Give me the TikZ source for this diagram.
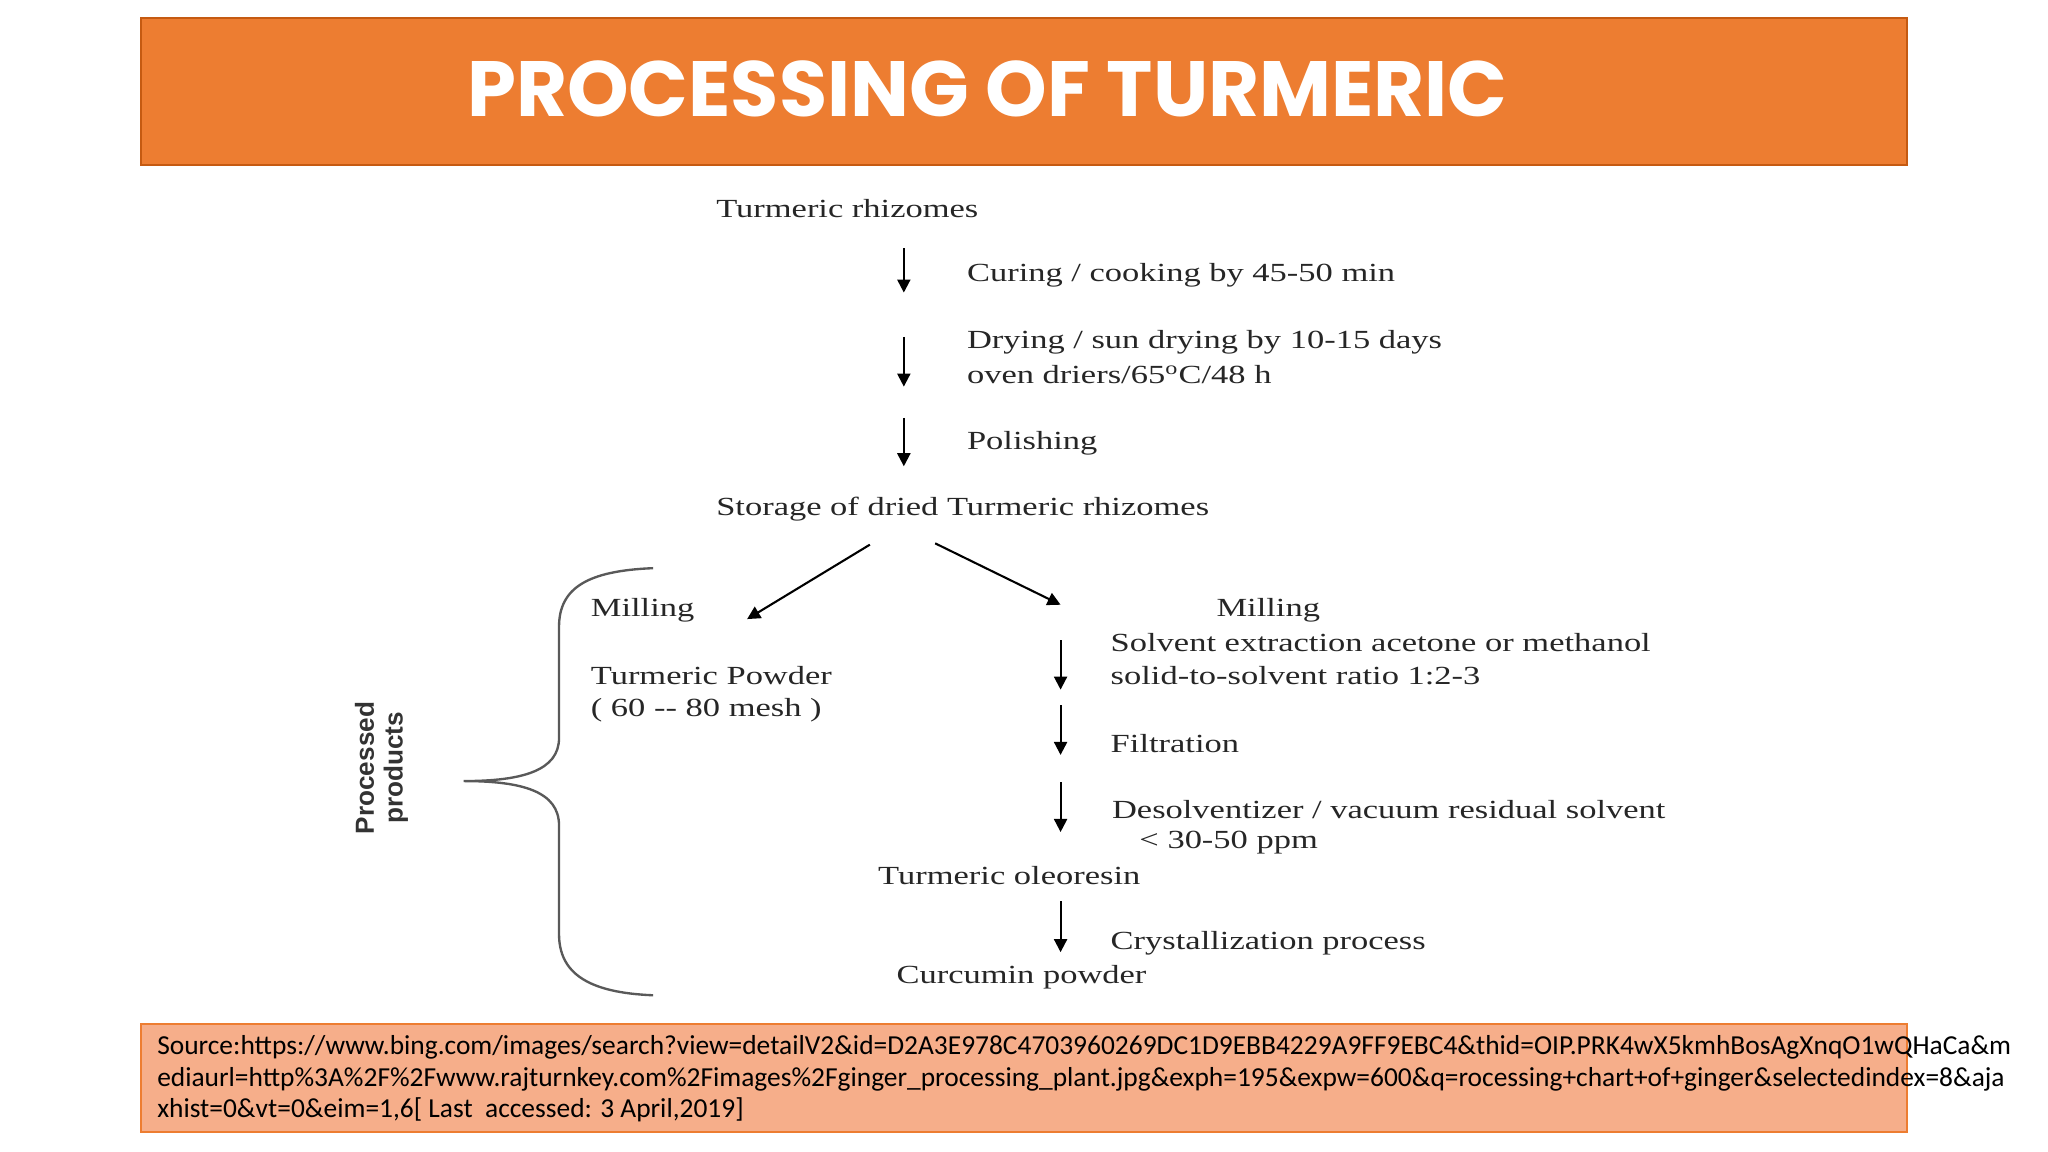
\documentclass[tikz,border=0pt]{standalone}
\usepackage{fontspec}
\usetikzlibrary{arrows.meta}
\setmainfont{Liberation Serif}
\newfontfamily\diagf{Liberation Serif}[FakeStretch=1.32]
\newfontfamily\titlef{Poppins}
\newfontfamily\srcf{Carlito}
\newfontfamily\sansf{Liberation Sans}
\definecolor{hdr}{HTML}{ED7D31}
\definecolor{hdrline}{HTML}{C55A11}
\definecolor{srcfill}{HTML}{F6AE8A}
\begin{document}
\begin{tikzpicture}[x=0.5pt,y=-0.5pt,
  t/.style={anchor=west,inner sep=0pt,font=\diagf\fontsize{10}{12}\selectfont,text=black!85},
  ar/.style={-{Triangle[length=5pt,width=5pt]},line width=0.8pt},
  s/.style={anchor=west,inner sep=0pt,font=\srcf\fontsize{10.5}{12}\selectfont}]
\useasboundingbox (0,0) rectangle (1568,882);
\fill[white] (0,0) rectangle (1568,882);
\draw[fill=hdr,draw=hdrline,line width=0.8pt] (108,14) rectangle (1460,126);
\node[text=white,font=\titlef\bfseries\fontsize{30}{34}\selectfont] (title) at (756,68) {PROCESSING OF TURMERIC};
\draw[fill=srcfill,draw=hdr,line width=0.8pt] (108,784) rectangle (1460,867);
\node[s] (s1) at (120,802) {Source:https://www.bing.com/images/search?view=detailV2\&id=D2A3E978C4703960269DC1D9EBB4229A9FF9EBC4\&thid=OIP.PRK4wX5kmhBosAgXnqO1wQHaCa\&m};
\node[s] (s2) at (120,826) {ediaurl=http\%3A\%2F\%2Fwww.rajturnkey.com\%2Fimages\%2Fginger\_processing\_plant.jpg\&exph=195\&expw=600\&q=rocessing+chart+of+ginger\&selectedindex=8\&aja};
\node[s] (s3) at (120,850) {xhist=0\&vt=0\&eim=1,6[ Last\ \ accessed: 3 April,2019]};

\node[t] (n1) at (548,160) {Turmeric rhizomes};
\node[t] (c1) at (740,211) {Curing / cooking by 45-50 min};
\node[t] (d1) at (740,262) {Drying / sun drying by 10-15 days};
\node[t] (d2) at (740,287) {oven driers/65\textsuperscript{o}C/48 h};
\node[t] (p1) at (740,339) {Polishing};
\node[t] (st) at (548,390) {Storage of dried Turmeric rhizomes};
\node[t] (m1) at (452,467) {Milling};
\node[t] (m2) at (931,467) {Milling};
\node[t] (tp) at (452,517) {Turmeric Powder};
\node[t] (mesh) at (452,544) {( 60 -- 80 mesh )};
\node[t] (se1) at (850,492) {Solvent extraction acetone or methanol};
\node[t] (se2) at (850,517) {solid-to-solvent ratio 1:2-3};
\node[t] (fi) at (850,569) {Filtration};
\node[t] (de1) at (851,620) {Desolventizer / vacuum residual solvent};
\node[t] (de2) at (872,645) {< 30-50 ppm};
\node[t] (ol) at (672,670) {Turmeric oleoresin};
\node[t] (cr) at (850,722) {Crystallization process};
\node[t] (cu) at (686,748) {Curcumin powder};

\coordinate (a1s) at (692,190); \coordinate (a1e) at (692,224);
\coordinate (a2s) at (692,258); \coordinate (a2e) at (692,296);
\coordinate (a3s) at (692,320); \coordinate (a3e) at (692,357);
\coordinate (b1s) at (666,417); \coordinate (b1e) at (572,474);
\coordinate (b2s) at (716,416); \coordinate (b2e) at (812,463);
\coordinate (r1s) at (812,490); \coordinate (r1e) at (812,528);
\coordinate (r2s) at (812,540); \coordinate (r2e) at (812,578);
\coordinate (r3s) at (812,599); \coordinate (r3e) at (812,637);
\coordinate (r4s) at (812,690); \coordinate (r4e) at (812,729);
\foreach \a in {a1,a2,a3,b1,b2,r1,r2,r3,r4} \draw[ar] (\a s) -- (\a e);

\coordinate (bt) at (500,435); \coordinate (bb) at (500,762); \coordinate (tip) at (355,598);
\draw[line width=0.9pt,black!65] (bt) .. controls (450,437) and (428,450) .. (428,480)
  -- (428,565) .. controls (428,590) and (400,598) .. (tip)
  .. controls (400,598) and (428,606) .. (428,632)
  -- (428,715) .. controls (428,745) and (450,760) .. (bb);
\node[rotate=90,align=center,font=\sansf\bfseries\fontsize{10}{11}\selectfont,text=black!80] (pp) at (292,588) {Processed\\products};
\end{tikzpicture}
\end{document}
